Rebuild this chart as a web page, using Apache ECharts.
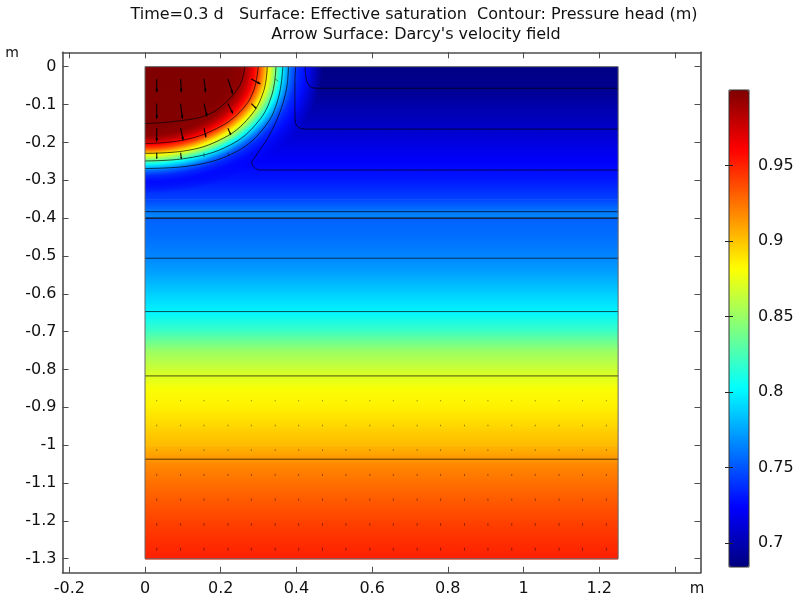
<!DOCTYPE html>
<html><head><meta charset="utf-8">
<script src="https://cdn.jsdelivr.net/npm/echarts@6/dist/echarts.min.js"></script>
<style>html,body{margin:0;padding:0;background:#fff}#c{width:798px;height:600px}</style>
</head><body><div id="c"></div>
<script>
// ---------- axis ticks / labels ----------
const xTicks = [-0.2, 0, 0.2, 0.4, 0.6, 0.8, 1, 1.2, 1.4];
const xLabels = [-0.2, 0, 0.2, 0.4, 0.6, 0.8, 1, 1.2];
const yTicks = [0, -0.1, -0.2, -0.3, -0.4, -0.5, -0.6, -0.7, -0.8, -0.9, -1, -1.1, -1.2, -1.3];
const cbTicks = [0.7, 0.75, 0.8, 0.85, 0.9, 0.95];
const satRange = [0.684, 1.0];

// ---------- domain ----------
const domainX = [0, 1.25];
const domainY = [-1.3, 0];
const interfaceY = -0.4;

// ---------- effective saturation ----------
// upper layer, far from the infiltration blob
const upperDepth = [0, -0.05, -0.1, -0.15, -0.2, -0.25, -0.3, -0.35, -0.38, -0.4];
const upperSat   = [0.686, 0.688, 0.697, 0.705, 0.714, 0.723, 0.731, 0.744, 0.760, 0.766];
// lower layer (horizontally uniform)
const lowerDepth = [-0.4, -0.45, -0.5, -0.55, -0.6, -0.65, -0.7, -0.75, -0.8, -0.85, -0.9, -0.95, -1.0, -1.05, -1.1, -1.15, -1.2, -1.25, -1.3];
const lowerSat   = [0.754, 0.758, 0.765, 0.775, 0.788, 0.800, 0.822, 0.850, 0.866, 0.880, 0.886, 0.894, 0.903, 0.918, 0.926, 0.933, 0.940, 0.946, 0.951];
// wetted blob around the source at the top-left corner: saturation vs distance (m, along x)
const blobCenter = [0, 0];
const blobAspect = 1.4; // x semi-axis / y semi-axis
const blobRho = [0, 0.22, 0.255, 0.272, 0.288, 0.302, 0.315, 0.327, 0.339, 0.35, 0.36, 0.37, 0.386, 0.404, 0.425, 0.47];
const blobSat = [1.0, 0.999, 0.995, 0.982, 0.962, 0.94, 0.91, 0.88, 0.855, 0.83, 0.805, 0.785, 0.755, 0.736, 0.727, 0.722];

// ---------- pressure head contours ----------
const contourA = [[0,-0.150],[0.075,-0.145],[0.163,-0.128],[0.216,-0.092],[0.251,-0.048],[0.264,0]];
const contourB = [[0,-0.203],[0.101,-0.194],[0.19,-0.163],[0.251,-0.119],[0.286,-0.066],[0.299,0]];
const contourC = [[0,-0.229],[0.101,-0.223],[0.207,-0.189],[0.277,-0.132],[0.313,-0.066],[0.323,0]];
const contourD = [[0,-0.249],[0.11,-0.242],[0.225,-0.207],[0.299,-0.145],[0.335,-0.075],[0.346,0]];
const contourE = [[0,-0.269],[0.119,-0.262],[0.242,-0.224],[0.317,-0.158],[0.352,-0.084],[0.364,0]];
const contour1 = [[1.25,-0.057],[0.455,-0.057],[0.437,-0.053],[0.428,-0.04],[0.424,-0.02],[0.423,0]];
const contour2 = [[1.25,-0.165],[0.425,-0.165],[0.405,-0.16],[0.397,-0.145],[0.396,-0.1],[0.396,-0.04],[0.398,0]];
const contour3 = [[1.25,-0.273],[0.304,-0.273],[0.288,-0.266],[0.282,-0.254],[0.291,-0.238],[0.321,-0.194],[0.345,-0.148],[0.365,-0.095],[0.376,-0.045],[0.379,0]];
const levelY = [-0.383, -0.506, -0.647, -0.817, -1.037];

// ---------- Darcy velocity arrows (tail position, vector in m of arrow length) ----------
const blobArrowX = [0.031,0.094,0.156,0.219,0.281,0.344, 0.031,0.094,0.156,0.219,0.281, 0.031,0.094,0.156,0.219, 0.031,0.094,0.156,0.219,0.281];
const blobArrowY = [-0.0325,-0.0325,-0.0325,-0.0325,-0.0325,-0.0325, -0.0975,-0.0975,-0.0975,-0.0975,-0.0975, -0.1625,-0.1625,-0.1625,-0.1625, -0.2275,-0.2275,-0.2275,-0.2275,-0.2275];
const blobArrowU = [0,0.002,0.004,0.013,0.024,0.008, 0,0.005,0.008,0.013,0.013, 0,0.007,0.005,0.008, 0,0.002,0,0.003,0.004];
const blobArrowV = [-0.035,-0.035,-0.035,-0.04,-0.013,-0.006, -0.04,-0.04,-0.034,-0.026,-0.013, -0.035,-0.032,-0.024,-0.018, -0.016,-0.016,-0.011,-0.008,-0.004];
const lowerArrowX = [0.031,0.094,0.156,0.219,0.281,0.344,0.406,0.469,0.531,0.594,0.656,0.719,0.781,0.844,0.906,0.969,1.031,1.094,1.156,1.219];
const lowerArrowY = [-0.881,-0.946,-1.011,-1.076,-1.141,-1.206,-1.271];
const lowerArrowLen = [0.003,0.004,0.004,0.005,0.006,0.007,0.008];

// ---------- colour map ----------
const jet = ['#00007f','#0000ff','#007fff','#00ffff','#7fff7f','#ffff00','#ff7f00','#ff0000','#7f0000'];
function satColor(v){
  const t = Math.min(1, Math.max(0, (v - satRange[0]) / (satRange[1] - satRange[0])));
  return echarts.color.lerp(t, jet);
}

// ---------- tables for the series ----------
function bands(depth, sat){
  const out = [];
  for (let i = 0; i < depth.length - 1; i++) out.push([domainX[0], domainX[1], depth[i], depth[i+1], sat[i], sat[i+1]]);
  return out;
}
const bandData = bands(upperDepth, upperSat).concat(bands(lowerDepth, lowerSat));
const arrowData = [];
blobArrowX.forEach((x, i) => arrowData.push([x, blobArrowY[i], blobArrowU[i], blobArrowV[i]]));
lowerArrowY.forEach((y, j) => lowerArrowX.forEach(x => arrowData.push([x, y, 0, -lowerArrowLen[j]])));
const boundary = [[domainX[0],domainY[1]],[domainX[1],domainY[1]],[domainX[1],domainY[0]],[domainX[0],domainY[0]],[domainX[0],domainY[1]]];

const fmt = v => String(parseFloat(Number(v).toFixed(2)));
const FONT = 'DejaVu Sans';
const AX = '#4d4d4d';

function contourSeries(data, smooth){
  return {type:'line', data, xAxisIndex:0, yAxisIndex:0, symbol:'none', smooth: smooth, silent:true, z:3,
    lineStyle:{color:'#000', width:0.8, opacity:0.85}};
}

const series = [
  { type:'custom', name:'Effective saturation', data: bandData, xAxisIndex:0, yAxisIndex:0, z:1, silent:true,
    encode:{x:[0,1], y:[2,3]},
    renderItem(params, api){
      const p0 = api.coord([api.value(0), api.value(2)]);
      const p1 = api.coord([api.value(1), api.value(3)]);
      const c0 = satColor(api.value(4)), c1 = satColor(api.value(5));
      return {type:'rect', shape:{x:p0[0], y:p0[1], width:p1[0]-p0[0], height:p1[1]-p0[1]+0.7},
        style:{fill:new echarts.graphic.LinearGradient(0,0,0,1,[{offset:0,color:c0},{offset:1,color:c1}])}};
    }},
  { type:'custom', name:'Blob', data:[blobCenter], xAxisIndex:0, yAxisIndex:0, z:2, silent:true,
    renderItem(params, api){
      const c = api.coord([api.value(0), api.value(1)]);
      const rMax = blobRho[blobRho.length-1];
      const rPx = Math.abs(api.coord([rMax, 0])[0] - c[0]);
      const stops = blobRho.map((r, i) => {
        let col = satColor(blobSat[i]);
        if (i === blobRho.length - 1) col = echarts.color.modifyAlpha(col, 0);
        return {offset: r / rMax, color: col};
      });
      return {type:'sector', x:c[0], y:c[1], scaleX:1, scaleY:1/blobAspect,
        shape:{cx:0, cy:0, r0:0, r:rPx, startAngle:0, endAngle:Math.PI/2, clockwise:true},
        style:{fill:new echarts.graphic.RadialGradient(0, 0, rPx, stops, true)}};
    }},
  contourSeries(contourA, 0.4), contourSeries(contourB, 0.4), contourSeries(contourC, 0.4),
  contourSeries(contourD, 0.4), contourSeries(contourE, 0.4),
  contourSeries(contour1, 0.3), contourSeries(contour2, 0.3), contourSeries(contour3, 0.3)
];
levelY.forEach(y => series.push(contourSeries([[domainX[0], y],[domainX[1], y]], false)));
series.push({type:'line', data:[[domainX[0], interfaceY],[domainX[1], interfaceY]], symbol:'none', silent:true, z:4,
  lineStyle:{color:'#111', width:1.2}});
series.push({type:'line', data:boundary, symbol:'none', silent:true, z:6, lineStyle:{color:'#666', width:1}});
series.push({type:'custom', name:'Darcy velocity', data:arrowData, xAxisIndex:0, yAxisIndex:0, z:5, silent:true,
  renderItem(params, api){
    const x = api.value(0), y = api.value(1), u = api.value(2), v = api.value(3);
    const p0 = api.coord([x, y]);
    const p1 = api.coord([x + u, y + v]);
    const dx = p1[0]-p0[0], dy = p1[1]-p0[1];
    const len = Math.hypot(dx, dy);
    const big = len > 6;
    const children = [{type:'line', shape:{x1:p0[0], y1:p0[1], x2:p1[0], y2:p1[1]},
      style:{stroke:'#000', lineWidth: big ? 1.1 : 1, opacity: big ? 0.95 : 0.45}}];
    if (big) {
      const ux = dx/len, uy = dy/len, h = Math.min(3.5, len*0.3), w = h*0.4;
      children.push({type:'polygon', shape:{points:[[p1[0],p1[1]],[p1[0]-ux*h-uy*w, p1[1]-uy*h+ux*w],[p1[0]-ux*h+uy*w, p1[1]-uy*h-ux*w]]},
        style:{fill:'#000'}});
    }
    return {type:'group', children};
  }});

const option = {
  animation:false,
  backgroundColor:'#fff',
  textStyle:{fontFamily:FONT},
  grid:[
    {left:62.5, top:52.3, width:638, height:520.5, show:false},
    {left:729, top:90, width:20, height:477, show:false}
  ],
  xAxis:[
    {type:'value', gridIndex:0, position:'bottom', min:-0.218, max:1.4676, splitLine:{show:false},
      axisLine:{show:true, onZero:false, lineStyle:{color:AX, width:1.6}},
      axisTick:{show:true, inside:true, length:6, customValues:xTicks, lineStyle:{color:AX, width:1}},
      axisLabel:{customValues:xLabels, formatter:fmt, fontSize:16, color:'#111', margin:8, fontFamily:FONT}},
    {type:'value', gridIndex:0, position:'top', min:-0.218, max:1.4676, splitLine:{show:false},
      axisLine:{show:true, onZero:false, lineStyle:{color:AX, width:1.6}},
      axisTick:{show:true, inside:true, length:6, customValues:xTicks, lineStyle:{color:AX, width:1}},
      axisLabel:{show:false}},
    {type:'value', gridIndex:1, show:false, min:0, max:1}
  ],
  yAxis:[
    {type:'value', gridIndex:0, position:'left', min:-1.3372, max:0.038, splitLine:{show:false},
      axisLine:{show:true, onZero:false, lineStyle:{color:AX, width:1.6}},
      axisTick:{show:true, inside:true, length:6, customValues:yTicks, lineStyle:{color:AX, width:1}},
      axisLabel:{customValues:yTicks, formatter:fmt, fontSize:16, color:'#111', margin:6, fontFamily:FONT}},
    {type:'value', gridIndex:0, position:'right', min:-1.3372, max:0.038, splitLine:{show:false},
      axisLine:{show:true, onZero:false, lineStyle:{color:AX, width:1.6}},
      axisTick:{show:true, inside:true, length:6, customValues:yTicks, lineStyle:{color:AX, width:1}},
      axisLabel:{show:false}},
    {type:'value', gridIndex:1, position:'right', min:satRange[0], max:satRange[1], z:10, splitLine:{show:false},
      axisLine:{show:false},
      axisTick:{show:true, inside:true, length:4, customValues:cbTicks, lineStyle:{color:'#222', width:1}},
      axisLabel:{customValues:cbTicks, formatter:fmt, fontSize:16, color:'#111', margin:9, fontFamily:FONT}},
    {type:'value', gridIndex:1, position:'left', min:satRange[0], max:satRange[1], z:10, splitLine:{show:false},
      axisLine:{show:false},
      axisTick:{show:true, inside:true, length:4, customValues:cbTicks, lineStyle:{color:'#222', width:1}},
      axisLabel:{show:false}}
  ],
  visualMap:{type:'continuous', min:satRange[0], max:satRange[1], inRange:{color:jet},
    seriesIndex:0, dimension:4, calculable:false, hoverLink:false, orient:'vertical',
    left:729, top:90, itemWidth:20, itemHeight:477, padding:0, z:4},
  graphic:[
    {type:'rect', z:100, silent:true, shape:{x:729, y:90, width:20, height:477}, style:{fill:'none', stroke:'#333', lineWidth:1}},
    {type:'text', z:100, x:414, y:15, style:{text:'Time=0.3 d   Surface: Effective saturation  Contour: Pressure head (m)', font:'16px "DejaVu Sans"', fill:'#111', align:'center', verticalAlign:'middle'}},
    {type:'text', z:100, x:416, y:35, style:{text:"Arrow Surface: Darcy's velocity field", font:'16px "DejaVu Sans"', fill:'#111', align:'center', verticalAlign:'middle'}},
    {type:'text', z:100, x:12, y:53, style:{text:'m', font:'14px "DejaVu Sans"', fill:'#111', align:'center', verticalAlign:'middle'}},
    {type:'text', z:100, x:697, y:589, style:{text:'m', font:'15px "DejaVu Sans"', fill:'#111', align:'center', verticalAlign:'middle'}}
  ],
  series
};
const chart = echarts.init(document.getElementById('c'), null, {renderer:'canvas'});
chart.setOption(option);
</script></body></html>
